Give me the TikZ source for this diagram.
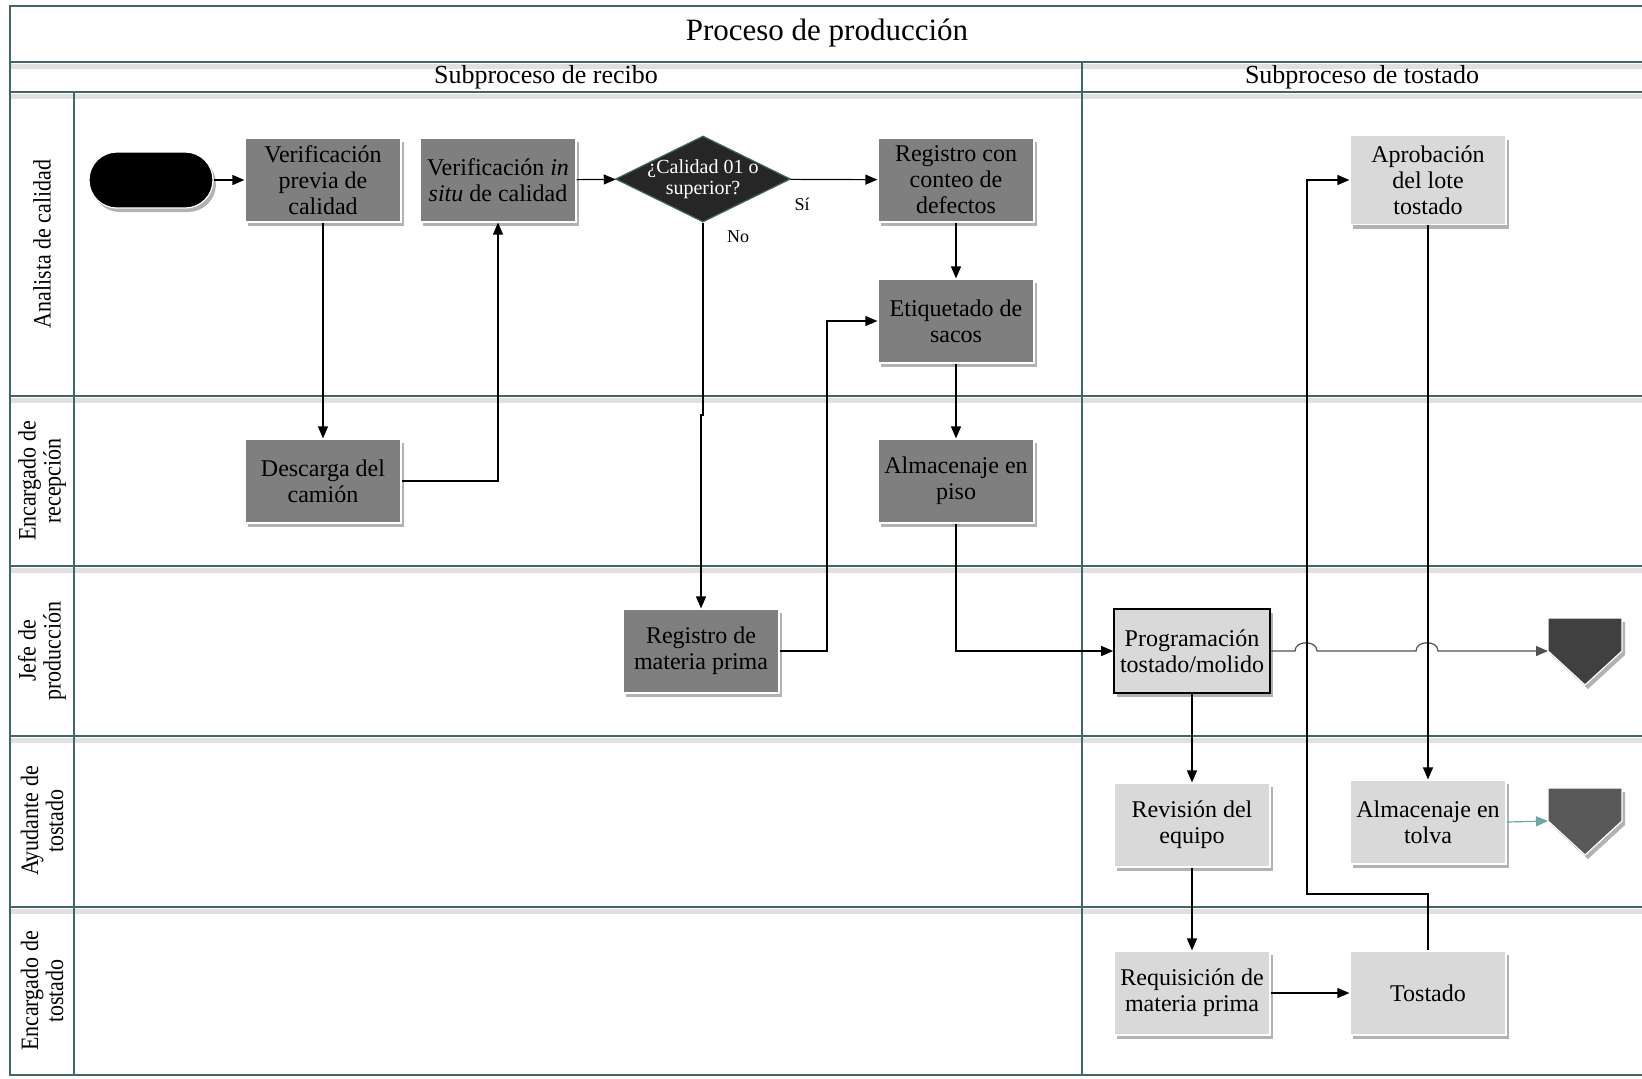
\documentclass[tikz,border=0pt]{standalone}
\usepackage{fontspec}
\setmainfont{Liberation Serif}
\newfontfamily\lanefont[FakeStretch=0.88]{Liberation Serif}
\usetikzlibrary{arrows.meta,shapes.geometric,shadows}

\definecolor{gridc}{HTML}{406666}
\definecolor{boxdark}{HTML}{7F7F7F}
\definecolor{boxlight}{HTML}{D9D9D9}
\definecolor{offa}{HTML}{404040}
\definecolor{offb}{HTML}{595959}
\definecolor{decfill}{HTML}{262626}
\definecolor{tealarrow}{HTML}{6AA8A8}
\definecolor{linkgray}{HTML}{505050}

\newcommand\bxfont{\fontsize{12}{13}\selectfont}

\tikzset{
  gridline/.style={draw=gridc, line width=1pt},
  gridshade/.style={draw=black!12, line width=2.5pt},
  boxshadow/.style={drop shadow={shadow xshift=1.5pt, shadow yshift=-2pt, opacity=0.3, fill=black}},
  procd/.style={rectangle, fill=boxdark, draw=white, line width=0.6pt,
    minimum width=78pt, minimum height=42pt, inner sep=0pt, align=center,
    font=\bxfont, boxshadow},
  procl/.style={procd, fill=boxlight},
  lanelabel/.style={rotate=90, align=center, font=\lanefont\fontsize{12.5}{12.5}\selectfont},
  arr/.style={-{Triangle[length=6pt,width=5pt]}, line width=0.6pt, draw=black},
  smalllbl/.style={font=\fontsize{9}{10}\selectfont, inner sep=0pt},
}

\begin{document}
\begin{tikzpicture}[x=0.5pt, y=-0.5pt]
\useasboundingbox (0,0) rectangle (1642,1078);
\fill[white] (0,0) rectangle (1642,1078);

% soft shading under the horizontal rules
\foreach \yy in {62,92,396,566,736,907} {
  \draw[gridshade] (10,\yy+4) -- (1650,\yy+4);
}

% swimlane frame
\draw[gridline] (1650,6) -- (10,6) -- (10,1075) -- (1650,1075);
\foreach \yy in {62,92,396,566,736,907} {
  \draw[gridline] (10,\yy) -- (1650,\yy);
}
\draw[gridline] (74,92) -- (74,1075);
\draw[gridline] (1082,62) -- (1082,1075);

% headers
\node (title) at (827,33) {\fontsize{15.5}{18}\selectfont Proceso de producción};
\node (subrec) at (546,77) {\fontsize{13}{15}\selectfont Subproceso de recibo};
\node (subtos) at (1362,77) {\fontsize{13}{15}\selectfont Subproceso de tostado};

% lane labels
\node[lanelabel] (lane1) at (42,244) {Analista de calidad};
\node[lanelabel] (lane2) at (42,481) {Encargado de\\recepción};
\node[lanelabel] (lane3) at (42,651) {Jefe de\\producción};
\node[lanelabel] (lane4) at (42,821) {Ayudante de\\tostado};
\node[lanelabel] (lane5) at (42,991) {Encargado de\\tostado};

% start terminal
\node[rectangle, rounded corners=13.9pt, fill=black, draw=white, line width=0.6pt,
      minimum width=62pt, minimum height=28pt, boxshadow] (start) at (151,180) {};

% receiving subprocess
\node[procd] (vprev) at (323,180) {Verificación\\previa de\\calidad};
\node[procd] (vsitu) at (498,180) {Verificación \textit{in}\\\textit{situ} de calidad};
\node[diamond, fill=decfill, draw=gridc, line width=0.6pt, inner sep=0pt,
      minimum width=87.5pt, minimum height=43pt,
      label={[text=white, font=\fontsize{10}{10.5}\selectfont, align=center]center:¿Calidad 01 o\\superior?}]
      (dec) at (703,179) {};
\node[procd] (rcd) at (956,180) {Registro con\\conteo de\\defectos};
\node[procd] (etq) at (956,321) {Etiquetado de\\sacos};
\node[procd] (alm) at (956,481) {Almacenaje en\\piso};
\node[procd] (desc) at (323,481) {Descarga del\\camión};
\node[procd] (rmp) at (701,651) {Registro de\\materia prima};

% roasting subprocess
\node[procl, draw=black, line width=0.8pt] (prog) at (1192,651) {Programación\\tostado/molido};
\node[procl] (rev) at (1192,825) {Revisión del\\equipo};
\node[procl] (req) at (1192,993) {Requisición de\\materia prima};
\node[procl] (tost) at (1428,993) {Tostado};
\node[procl] (tolva) at (1428,822) {Almacenaje en\\tolva};
\node[procl, minimum height=44.5pt] (aprob) at (1428,180) {Aprobación\\del lote\\tostado};

% off-page connectors
\path[fill=offa, draw=white, line width=0.6pt, boxshadow]
  (1548,618) -- (1622,618) -- (1622,651) -- (1585,685) -- (1548,651) -- cycle;
\coordinate (off1) at (1548,651);
\path[fill=offb, draw=white, line width=0.6pt, boxshadow]
  (1548,788) -- (1622,788) -- (1622,821) -- (1585,855) -- (1548,821) -- cycle;
\coordinate (off2) at (1548,821);

% bend points
\coordinate (jogA) at (703,415);
\coordinate (jogB) at (701,415);
\coordinate (rise) at (827,651);
\coordinate (back) at (1307,894);

% connectors
\draw[arr] (start) -- (vprev);
\draw[arr] (vsitu) -- (dec);
\draw[arr] (dec) -- (rcd);
\node[smalllbl] (yes) at (802,204) {Sí};
\draw[arr] (vprev) -- (desc);
\draw[arr] (desc.east) -| (vsitu.south);
\draw[arr] (dec.south) -- (jogA) -- (jogB) -- (rmp.north);
\node[smalllbl] (no) at (738,237) {No};
\draw[arr] (rcd) -- (etq);
\draw[arr] (rmp.east) -- (rise) |- (etq.west);
\draw[arr] (etq) -- (alm);
\draw[arr] (alm.south) |- (prog.west);
\draw[arr, draw=linkgray] (prog.east) -- (1295,651)
  .. controls (1295,640) and (1317,640) .. (1317,651) -- (1416,651)
  .. controls (1416,640) and (1438,640) .. (1438,651) -- (off1);
\draw[arr] (prog) -- (rev);
\draw[arr] (rev) -- (req);
\draw[arr] (req) -- (tost);
\draw[arr] (tost.north) |- (back) |- (aprob.west);
\draw[arr] (aprob) -- (tolva);
\draw[arr, draw=tealarrow, -{Triangle[length=6pt,width=5pt,fill=tealarrow]}] (tolva.east) -- (off2);
\end{tikzpicture}
\end{document}
